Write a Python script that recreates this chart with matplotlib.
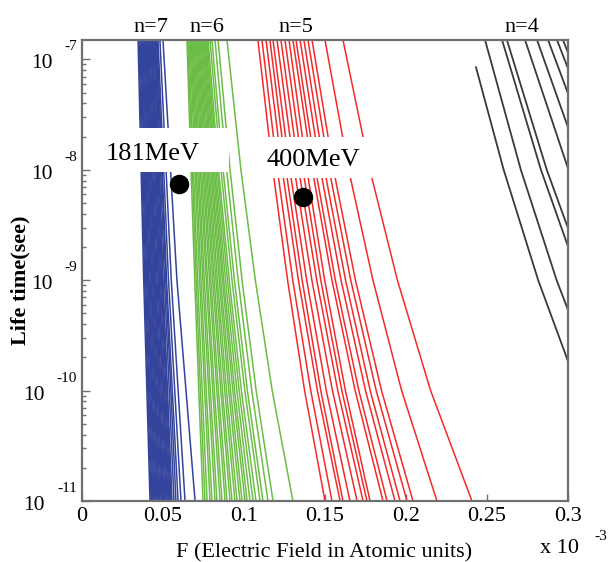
import matplotlib
matplotlib.use('Agg')
import matplotlib.pyplot as plt
from matplotlib.patches import Rectangle
from matplotlib.ticker import LogLocator, NullFormatter, FixedLocator

plt.rcParams['font.family'] = ['Liberation Serif', 'DejaVu Serif']

# lifetimes (s) where the curve field values were read
# n=7: top edge, 1e-9, 1e-11 ; n=6 and n=5: top edge, 1e-8, 1e-9, 1e-10, 1e-11
life_n7 = [1.5e-7, 1e-9, 1e-11]
life_fine = [1.5e-7, 1e-8, 1e-9, 1e-10, 1e-11]

# field values (x 10^-3 a.u.) of every curve at those lifetimes
n7_top = [0.0346, 0.0352, 0.0358, 0.0364, 0.0370, 0.0370, 0.0377, 0.0383, 0.0389, 0.0389,
          0.0395, 0.0401, 0.0407, 0.0407, 0.0414, 0.0420, 0.0426, 0.0432, 0.0432, 0.0438,
          0.0444, 0.0451, 0.0451, 0.0457, 0.0463, 0.0463, 0.0469, 0.0481, 0.0500]
n7_mid = [0.0381, 0.0387, 0.0393, 0.0399, 0.0406, 0.0408, 0.0414, 0.0420, 0.0427, 0.0430,
          0.0436, 0.0442, 0.0448, 0.0451, 0.0457, 0.0463, 0.0470, 0.0476, 0.0478, 0.0485,
          0.0491, 0.0497, 0.0500, 0.0509, 0.0517, 0.0522, 0.0534, 0.0551, 0.0586]
n7_bot = [0.0420, 0.0426, 0.0432, 0.0438, 0.0444, 0.0451, 0.0457, 0.0463, 0.0469, 0.0475,
          0.0481, 0.0488, 0.0494, 0.0500, 0.0506, 0.0512, 0.0519, 0.0525, 0.0531, 0.0537,
          0.0543, 0.0549, 0.0556, 0.0568, 0.0580, 0.0593, 0.0611, 0.0636, 0.0698]

n6_top = [0.0648, 0.0654, 0.0660, 0.0667, 0.0673, 0.0679, 0.0685, 0.0691, 0.0698, 0.0704,
          0.0710, 0.0716, 0.0722, 0.0728, 0.0735, 0.0741, 0.0747, 0.0753, 0.0759, 0.0765,
          0.0772, 0.0778, 0.0790, 0.0802, 0.0821, 0.0840, 0.0895]
n6_e8 = [0.0673, 0.0681, 0.0688, 0.0698, 0.0705, 0.0714, 0.0721, 0.0730, 0.0738, 0.0747,
         0.0754, 0.0763, 0.0770, 0.0778, 0.0786, 0.0795, 0.0802, 0.0810, 0.0818, 0.0826,
         0.0835, 0.0843, 0.0858, 0.0871, 0.0893, 0.0914, 0.0981]
n6_e9 = [0.0696, 0.0705, 0.0714, 0.0726, 0.0735, 0.0746, 0.0755, 0.0767, 0.0775, 0.0787,
         0.0796, 0.0807, 0.0816, 0.0827, 0.0836, 0.0847, 0.0856, 0.0867, 0.0875, 0.0886,
         0.0898, 0.0909, 0.0926, 0.0941, 0.0964, 0.0988, 0.1070]
n6_e10 = [0.0721, 0.0731, 0.0742, 0.0757, 0.0767, 0.0782, 0.0792, 0.0807, 0.0817, 0.0832,
          0.0842, 0.0857, 0.0867, 0.0881, 0.0892, 0.0906, 0.0917, 0.0931, 0.0942, 0.0956,
          0.0970, 0.0984, 0.1005, 0.1021, 0.1048, 0.1075, 0.1174]
n6_bot = [0.0747, 0.0759, 0.0772, 0.0790, 0.0802, 0.0821, 0.0833, 0.0852, 0.0864, 0.0883,
          0.0895, 0.0914, 0.0926, 0.0944, 0.0957, 0.0975, 0.0988, 0.1006, 0.1019, 0.1037,
          0.1056, 0.1074, 0.1099, 0.1117, 0.1148, 0.1179, 0.1302]

n5_top = [0.1086, 0.1111, 0.1136, 0.1160, 0.1179, 0.1204, 0.1228, 0.1253, 0.1278, 0.1302,
          0.1321, 0.1346, 0.1370, 0.1395, 0.1420, 0.1500, 0.1611]
n5_e8 = [0.1178, 0.1206, 0.1236, 0.1259, 0.1283, 0.1311, 0.1338, 0.1364, 0.1388, 0.1422,
         0.1442, 0.1472, 0.1497, 0.1526, 0.1553, 0.1646, 0.1777]
n5_e9 = [0.1269, 0.1301, 0.1336, 0.1359, 0.1387, 0.1419, 0.1449, 0.1474, 0.1498, 0.1543,
         0.1564, 0.1599, 0.1627, 0.1659, 0.1688, 0.1796, 0.1947]
n5_e10 = [0.1374, 0.1412, 0.1453, 0.1474, 0.1508, 0.1546, 0.1579, 0.1604, 0.1626, 0.1686,
          0.1709, 0.1750, 0.1779, 0.1816, 0.1849, 0.1973, 0.2152]
n5_bot = [0.1500, 0.1543, 0.1593, 0.1611, 0.1654, 0.1698, 0.1735, 0.1759, 0.1778, 0.1858,
          0.1883, 0.1932, 0.1963, 0.2006, 0.2043, 0.2191, 0.2407]

# n=4 curves (most leave through the right edge); the first starts below the top edge
n4_start_life = [8.5e-8, 1.5e-7, 1.5e-7, 1.5e-7, 1.5e-7, 1.5e-7, 1.5e-7, 1.5e-7, 1.5e-7]
n4_start = [0.2432, 0.2488, 0.2593, 0.2623, 0.2735, 0.2809, 0.2877, 0.2932, 0.2969]
n4_e8 = [0.2603, 0.2709, 0.2833, 0.2869, 0.3003, 0.3093, 0.3176, 0.3243, 0.3288]
n4_e9 = [0.2816, 0.2930, 0.3074, 0.3117, 0.3275, 0.3383, 0.3482, 0.3563, 0.3618]
n4_e10 = [0.3067, 0.3191, 0.3361, 0.3413, 0.3604, 0.3734, 0.3855, 0.3954, 0.4023]
n4_bot = [0.3368, 0.3501, 0.3708, 0.3771, 0.4005, 0.4167, 0.4318, 0.4442, 0.4529]

beam_names = ['181MeV', '400MeV']
beam_field = [0.0599, 0.1364]
beam_life = [7.4e-9, 5.7e-9]

xticks = [0, 0.05, 0.1, 0.15, 0.2, 0.25, 0.3]
xtick_labels = ['0', '0.05', '0.1', '0.15', '0.2', '0.25', '0.3']
ydecades = [-11, -10, -9, -8, -7]

W, H = 609, 562
fig = plt.figure(figsize=(W / 100, H / 100), dpi=100)
ax = fig.add_axes([82 / W, 61 / H, 486 / W, 461 / H])


def px(x, y):
    # figure pixel (from top-left) -> figure fraction
    return x / W, 1 - y / H


for pts in zip(n7_top, n7_mid, n7_bot):
    ax.plot(pts, life_n7, color='#34449c', lw=1.1)
for pts in zip(n6_top, n6_e8, n6_e9, n6_e10, n6_bot):
    ax.plot(pts, life_fine, color='#6cbd45', lw=1.1)
for pts in zip(n5_top, n5_e8, n5_e9, n5_e10, n5_bot):
    ax.plot(pts, life_fine, color='#f42a2a', lw=1.1)
for sl, *pts in zip(n4_start_life, n4_start, n4_e8, n4_e9, n4_e10, n4_bot):
    ax.plot(pts, [sl] + life_fine[1:], color='#3a3a3a', lw=1.3)

ax.set_yscale('log')
ax.set_xlim(0, 0.3)
ax.set_ylim(1e-11, 1.5e-7)

# white boxes behind the beam labels
ax.add_patch(Rectangle((0.031, 0.714), 0.271, 0.095, transform=ax.transAxes,
                       facecolor='white', edgecolor='none', zorder=3))
ax.add_patch(Rectangle((0.335, 0.701), 0.268, 0.089, transform=ax.transAxes,
                       facecolor='white', edgecolor='none', zorder=3))

fig.text(*px(153, 160), beam_names[0], fontsize=19, ha='center', va='baseline', zorder=5)
fig.text(*px(313, 166), beam_names[1], fontsize=19, ha='center', va='baseline', zorder=5)
ax.plot(beam_field, beam_life, 'o', color='black', markersize=13, zorder=6)

for sp in ax.spines.values():
    sp.set_color('#707070')
    sp.set_linewidth(1.6)
    sp.set_zorder(7)

ax.xaxis.set_major_locator(FixedLocator(xticks))
ax.set_xticklabels(xtick_labels, fontsize=16)
ax.yaxis.set_major_locator(LogLocator(base=10, numticks=20))
ax.yaxis.set_minor_locator(LogLocator(base=10, subs=range(2, 10), numticks=20))
ax.yaxis.set_major_formatter(NullFormatter())
ax.yaxis.set_minor_formatter(NullFormatter())
ax.tick_params(which='both', direction='in', color='#707070', width=1.0)
ax.tick_params(axis='x', which='major', length=5, pad=4)
ax.tick_params(axis='y', which='major', length=6)
ax.tick_params(axis='y', which='minor', length=3)

# ROOT style decade labels: "10" with a detached exponent
for d in ydecades:
    ytick = 501 - (d + 11) * 110.4
    xr = 53 if d > -10 else 45
    fig.text(*px(xr, ytick + 9), '10', fontsize=15.5, ha='right', va='baseline')
    fig.text(*px(77, ytick - 9), str(d), fontsize=11, ha='right', va='baseline')

for lab, xc in zip(['n=7', 'n=6', 'n=5', 'n=4'], [151, 207, 296, 522]):
    fig.text(*px(xc, 32), lab, fontsize=16, ha='center', va='baseline')

fig.text(*px(20, 280), 'Life time(see)', fontsize=16, fontweight='bold',
         rotation=90, ha='center', va='center')
fig.text(*px(324, 557), 'F (Electric Field in Atomic units)', fontsize=16,
         ha='center', va='baseline')
fig.text(*px(540, 553), 'x 10', fontsize=16, ha='left', va='baseline')
fig.text(*px(607, 540), '-3', fontsize=11, ha='right', va='baseline')

fig.savefig('out.png', dpi=100)
